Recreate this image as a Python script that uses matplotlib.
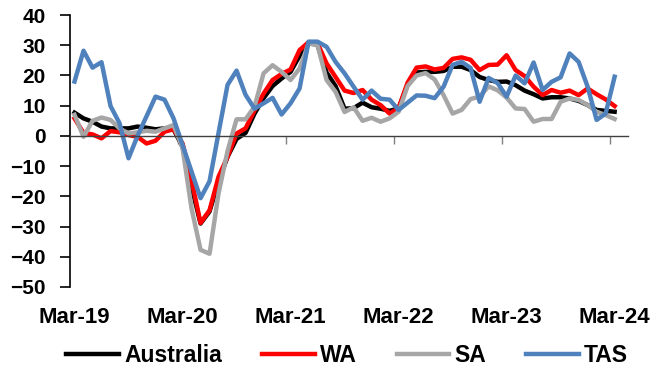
import matplotlib
matplotlib.use("Agg")
import matplotlib.pyplot as plt

plt.rcParams['font.family'] = ['Liberation Sans', 'DejaVu Sans']
plt.rcParams['font.weight'] = 'bold'

# monthly series, Mar-19 .. Mar-24
australia = [7.7, 5.8, 4.7, 3.1, 2.5, 2.5, 2.5, 3.1, 2.7, 2.2, 2.5, 2.2,
             -3.6, -16.8, -29.0, -25.0, -15.0, -6.9, -1.0, 1.0, 7.4, 12.5, 16.5, 19.0,
             21.2, 26.5, 31.0, 30.0, 21.0, 16.5, 9.0, 9.2, 11.0, 9.5, 9.0, 8.3,
             9.1, 17.0, 21.0, 21.2, 21.2, 21.5, 22.9, 22.9, 21.8, 19.5, 18.5, 17.9,
             18.0, 16.8, 15.0, 13.8, 12.4, 12.8, 12.8, 12.4, 11.6, 10.2, 8.6, 8.3,
             8.0]
wa = [5.8, 1.0, 0.5, -0.8, 1.6, 1.2, 0.3, -0.3, -2.5, -1.6, 1.4, 2.2,
      -2.5, -14.6, -28.8, -24.6, -13.5, -6.9, 0.8, 2.5, 8.5, 14.0, 18.5, 20.5,
      22.0, 28.4, 31.0, 30.6, 24.0, 19.5, 15.0, 14.2, 15.2, 12.0, 10.2, 7.4,
      9.2, 17.6, 22.6, 23.0, 22.0, 22.5, 25.5, 26.0, 25.2, 21.8, 23.5, 23.6,
      26.7, 21.8, 19.8, 16.3, 13.5, 15.2, 14.3, 15.0, 13.5, 15.7, 13.8, 12.1,
      9.9]
sa = [7.0, -0.3, 5.0, 6.1, 5.3, 2.5, 0.8, 1.2, 1.7, 1.4, 2.5, 3.6,
      -4.0, -24.0, -37.7, -39.0, -19.0, -5.0, 5.5, 5.5, 9.7, 20.7, 23.4, 21.2,
      18.5, 22.3, 30.6, 30.0, 18.5, 14.6, 7.9, 9.5, 5.0, 6.0, 4.7, 5.8,
      8.0, 16.5, 20.0, 20.8, 18.7, 13.5, 7.4, 8.6, 12.2, 13.0, 16.4, 15.1,
      12.7, 9.1, 8.9, 4.7, 5.6, 5.6, 11.3, 12.4, 11.9, 10.2, 8.0, 6.9,
      5.6]
tas = [18.0, 28.2, 22.6, 24.4, 9.9, 4.2, -7.4, 0.0, 6.5, 13.0, 12.0, 5.8,
       -3.0, -11.8, -20.6, -15.0, 1.0, 16.9, 21.6, 13.6, 9.0, 10.8, 12.6, 7.1,
       10.8, 15.7, 31.2, 31.2, 29.5, 24.5, 20.7, 16.3, 12.0, 15.0, 12.3, 12.0,
       8.6, 11.0, 13.4, 13.3, 12.5, 16.3, 23.5, 24.5, 22.5, 11.3, 19.2, 17.5,
       13.0, 20.0, 17.4, 24.3, 15.2, 17.9, 19.4, 27.3, 24.5, 16.3, 5.3, 7.4,
       19.6]
year_labels = ['Mar-19', 'Mar-20', 'Mar-21', 'Mar-22', 'Mar-23', 'Mar-24']

fig = plt.figure(figsize=(6.7, 3.72), dpi=100)
ax = fig.add_axes([0.1045, 0.2285, 0.833, 0.731])

x = range(len(australia))
ax.plot(x, australia, color='black', lw=3.2, label='Australia')
ax.plot(x, wa, color='#FF0000', lw=3.2, label='WA')
ax.plot(x, sa, color='#A6A6A6', lw=3.2, label='SA')
ax.plot(x, tas, color='#4F81BD', lw=3.2, label='TAS')

ax.set_xlim(-0.5, 61.5)
ax.set_ylim(-50, 40)
ax.set_yticks(range(-50, 41, 10))

for s in ['top', 'right']:
    ax.spines[s].set_visible(False)
ax.spines['left'].set_linewidth(1.2)
ax.spines['bottom'].set_position(('data', 0))
ax.spines['bottom'].set_color('#404040')
ax.spines['bottom'].set_linewidth(1.0)

# year boundary ticks on the zero line
ax.set_xticks([12 * k - 0.5 for k in range(1, 6)])
ax.tick_params(axis='x', direction='out', length=6, width=1, color='#808080',
               labelbottom=False)
ax.tick_params(axis='y', direction='out', length=7, width=1.2, pad=10.5,
               labelsize=15)

# date labels along the bottom of the plot area
sec = ax.secondary_xaxis('bottom')
sec.set_xticks([12 * k for k in range(len(year_labels))], year_labels)
sec.spines['bottom'].set_visible(False)
sec.tick_params(length=0, pad=14.5, labelsize=16)

ax.legend(loc='center', bbox_to_anchor=(0.518, 0.044),
          bbox_transform=fig.transFigure, ncol=4, frameon=False,
          fontsize=16.5, handlelength=2.3, handletextpad=0.22,
          columnspacing=1.75)

fig.savefig('out.png', dpi=100)
